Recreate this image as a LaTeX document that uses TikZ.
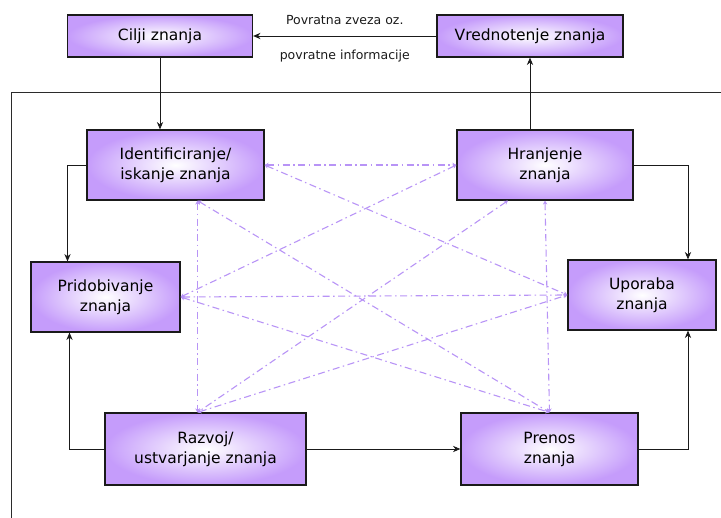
\documentclass[tikz,border=0pt]{standalone}
\usepackage{fontspec}
\setmainfont{DejaVu Sans}
\usepackage{tikz}
\usetikzlibrary{positioning,arrows.meta,calc}
\definecolor{ink}{HTML}{1a1a1a}
\definecolor{lilac}{HTML}{c59cfb}
\definecolor{lilacline}{HTML}{b894f6}
\definecolor{framegray}{HTML}{2b2b2b}

\begin{document}
\begin{tikzpicture}[x=1pt,y=-1pt,
  font=\fontsize{15.5}{20}\selectfont,
  box/.style={draw=ink,line width=1.2pt,align=center,inner sep=2pt,inner color=white,outer color=lilac},
  arr/.style={-{Stealth[length=2.6mm,width=2.2mm]},line width=0.9pt,draw=ink},
  link/.style={{Stealth[length=1.4mm,width=1.6mm]}-{Stealth[length=1.4mm,width=1.6mm]},dash pattern=on 7pt off 3.5pt on 1.5pt off 3.5pt,line width=1.1pt,draw=lilacline},
  lbl/.style={font=\fontsize{12.5}{14}\selectfont,color=ink}]
  \useasboundingbox (0,0) rectangle (721,518);
  % frame round the cycle
  \draw[framegray,line width=0.8pt] (11,518) |- (721,92);
  % boxes
  \node[box,minimum width=185pt,minimum height=42pt] (cilji) at (160,36) {Cilji znanja};
  \node[box,minimum width=186pt,minimum height=42pt] (vred) at (530,36) {Vrednotenje znanja};
  \node[box,minimum width=177pt,minimum height=70pt] (ident) at (175.5,165) {Identificiranje/\\iskanje znanja};
  \node[box,minimum width=176pt,minimum height=70pt] (hran) at (545,165) {Hranjenje\\znanja};
  \node[box,minimum width=149pt,minimum height=70pt] (pridob) at (105.5,297) {Pridobivanje\\znanja};
  \node[box,minimum width=148pt,minimum height=70pt] (upor) at (642,295) {Uporaba\\znanja};
  \node[box,minimum width=201pt,minimum height=72pt] (razvoj) at (205.5,449) {Razvoj/\\ustvarjanje znanja};
  \node[box,minimum width=177pt,minimum height=72pt] (prenos) at (549.5,449) {Prenos\\znanja};
  % dash-dot links between the phases
  \draw[link] (ident.east) -- (hran.west);
  \draw[link] (ident.east) -- (upor.west);
  \draw[link] (hran.west) -- (pridob.east);
  \draw[link] ([xshift=-37pt]hran.south) -- ([xshift=-8pt]razvoj.north);
  \draw[link] ([xshift=22pt]ident.south) -- ([xshift=-8pt]razvoj.north);
  \draw[link] (hran.south) -- (prenos.north);
  \draw[link] ([xshift=22pt]ident.south) -- (prenos.north);
  \draw[link] (pridob.east) -- (upor.west);
  \draw[link] (pridob.east) -- (prenos.north);
  \draw[link] ([xshift=-8pt]razvoj.north) -- (upor.west);
  % main flow
  \draw[arr] (vred.west) -- node[above=8pt,lbl]{Povratna zveza oz.} node[below=10pt,lbl]{povratne informacije} (cilji.east);
  \draw[arr] (cilji.south) -- (cilji.south |- ident.north);
  \draw[arr] (vred.south |- hran.north) -- (vred.south);
  \draw[arr] (ident.west) -| ([xshift=-38pt]pridob.north);
  \draw[arr] (hran.east) -| ([xshift=46pt]upor.north);
  \draw[arr] (razvoj.west) -| ([xshift=-36pt]pridob.south);
  \draw[arr] (razvoj.east) -- (prenos.west);
  \draw[arr] (prenos.east) -| ([xshift=46pt]upor.south);
\end{tikzpicture}
\end{document}
